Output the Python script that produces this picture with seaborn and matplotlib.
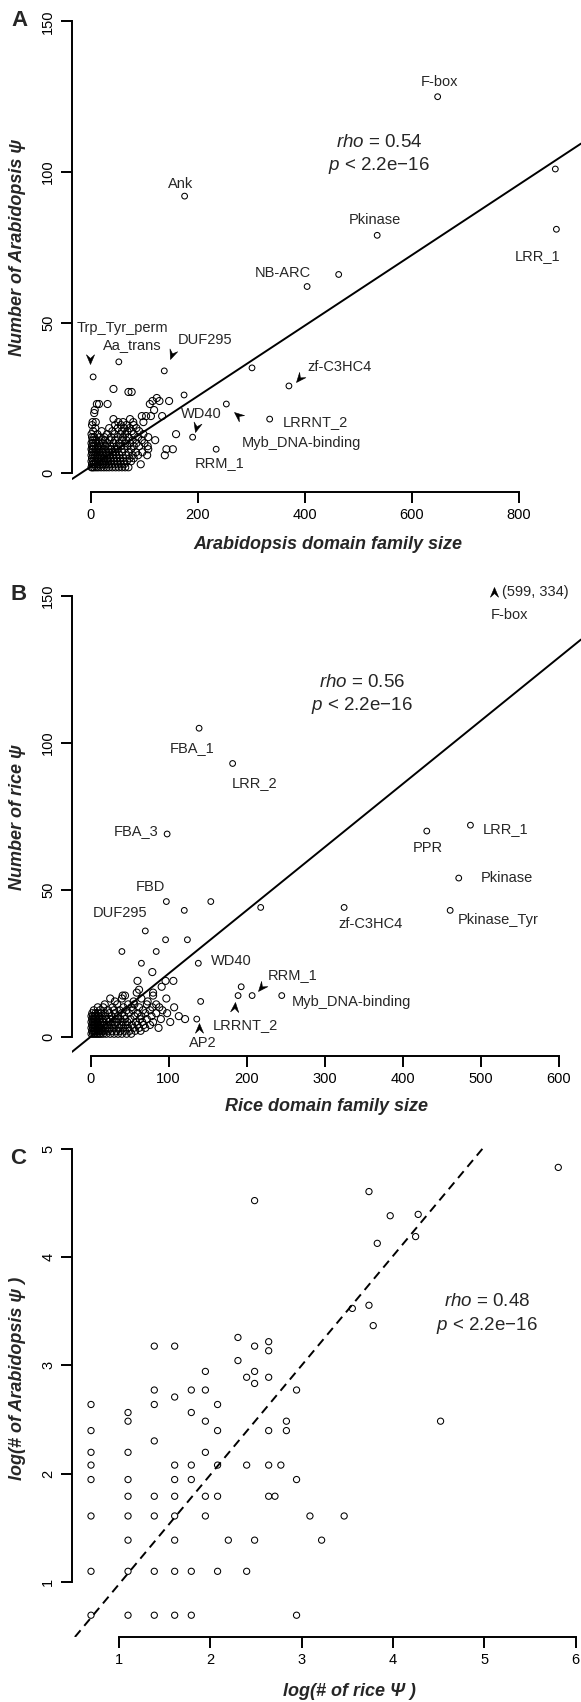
import numpy as np
import pandas as pd
import matplotlib
matplotlib.use("Agg")
import matplotlib.pyplot as plt
from matplotlib.markers import MarkerStyle
from matplotlib.path import Path
from matplotlib.transforms import Affine2D
import seaborn as sns

# ---------------- Panel A : Arabidopsis ----------------
# dense cluster, one row per psi count
a_rows_psi = [2, 3, 4, 5, 6, 7, 8, 9, 10, 11, 12, 13, 14, 15, 16, 17, 18, 19, 20, 21, 23, 24, 25, 27, 28]
a_rows_size = [
    [1, 3, 6, 10, 14, 19, 24, 29, 34, 40, 46, 52, 58, 64, 70],
    [2, 5, 8, 12, 17, 22, 27, 33, 38, 44, 50, 56, 62, 93],
    [1, 4, 9, 13, 18, 23, 28, 32, 37, 43, 49, 55, 61, 67, 75],
    [2, 6, 11, 15, 20, 25, 31, 36, 42, 48, 54, 60, 72, 80],
    [1, 4, 8, 12, 17, 26, 30, 35, 41, 47, 53, 65, 78, 88, 105, 138],
    [2, 6, 10, 16, 21, 28, 34, 40, 46, 58, 70, 84, 96],
    [1, 3, 9, 14, 19, 24, 33, 38, 44, 50, 62, 75, 107, 141, 153],
    [2, 5, 12, 18, 27, 36, 48, 56, 68, 80, 90, 106],
    [1, 4, 8, 15, 22, 30, 42, 52, 64, 73, 85, 100],
    [3, 10, 20, 26, 35, 45, 58, 66, 78, 95, 120],
    [2, 6, 16, 25, 38, 50, 60, 70, 88, 107],
    [1, 12, 30, 44, 55, 64, 80, 98, 159],
    [4, 20, 40, 58, 68, 76, 90],
    [8, 34, 50, 62, 72, 85],
    [2, 45, 56, 66, 80],
    [3, 9, 51, 60, 79, 98],
    [42, 73],
    [95, 103, 112, 133],
    [6],
    [7, 118],
    [11, 15, 31, 110],
    [115, 128, 146],
    [123],
    [70, 76],
    [42],
]
# isolated / named families
a_out_size = [648, 868, 870, 175, 535, 463, 404, 4, 52, 137, 301, 370, 253, 334, 190, 234, 174]
a_out_psi = [125, 101, 81, 92, 79, 66, 62, 32, 37, 34, 35, 29, 23, 18, 12, 8, 26]
a_fit = (2.26, 0.117)
a_labels = ["F-box", "Ank", "Pkinase", "LRR_1", "NB-ARC", "Trp_Tyr_perm", "Aa_trans",
            "DUF295", "zf-C3HC4", "LRRNT_2", "WD40", "Myb_DNA-binding", "RRM_1"]
a_label_x = [652, 167, 530, 834, 358, 58, 78, 213, 464, 419, 207, 393, 241]
a_label_y = [130, 96, 84, 72, 66.4, 48.3, 42.6, 44.2, 35.2, 17.1, 19.8, 10, 3.3]
a_arrow_x = [-2, 147, 384, 267, 195]
a_arrow_y = [36.3, 37.8, 30.2, 20.4, 13.8]
a_arrow_ang = [0, -20, -40, 230, -15]
a_stats = (538, 109.7, 102, "0.54")

# ---------------- Panel B : rice ----------------
b_rows_psi = [1, 2, 3, 4, 5, 6, 7, 8, 9, 10, 11, 12, 13, 14, 15, 16, 17, 19, 22]
b_rows_size = [
    [1, 3, 5, 7, 9, 11, 13, 16, 20, 25, 30, 35, 40, 46, 52],
    [2, 4, 6, 8, 10, 12, 15, 18, 22, 27, 33, 38, 44, 50, 57, 64],
    [1, 3, 5, 7, 9, 11, 14, 19, 24, 29, 36, 42, 48, 55, 62, 70, 87],
    [2, 4, 6, 8, 10, 13, 17, 21, 26, 31, 39, 45, 53, 60, 68, 76],
    [1, 3, 5, 7, 9, 12, 16, 23, 28, 34, 41, 47, 58, 66, 80, 102],
    [2, 4, 6, 8, 11, 15, 20, 25, 32, 38, 44, 51, 63, 72, 90, 121],
    [1, 3, 5, 7, 10, 14, 19, 27, 35, 43, 56, 65, 78, 113],
    [2, 6, 9, 13, 18, 24, 31, 40, 49, 60, 70, 84, 98],
    [4, 12, 22, 30, 37, 46, 54, 67, 76, 92],
    [9, 16, 28, 42, 52, 62, 79, 88, 107],
    [18, 34, 48, 56, 72, 84],
    [31, 55, 73],
    [25, 40, 65, 97],
    [41, 44, 80],
    [59, 80],
    [62],
    [91],
    [60, 96, 106],
    [79],
]
b_out_size = [139, 182, 98, 487, 431, 472, 461, 325, 97, 154, 120, 218, 70, 96, 124,
              40, 84, 65, 138, 193, 189, 207, 245, 141, 136]
b_out_psi = [105, 93, 69, 72, 70, 54, 43, 44, 46, 46, 43, 44, 36, 33, 33,
             29, 29, 25, 25, 17, 14, 14, 14, 12, 6]
b_fit = (0.0, 0.215)
b_labels = ["F-box", "FBA_1", "LRR_2", "FBA_3", "LRR_1", "PPR", "Pkinase", "Pkinase_Tyr",
            "zf-C3HC4", "FBD", "DUF295", "WD40", "RRM_1", "Myb_DNA-binding", "LRRNT_2", "AP2"]
b_label_x = [536.5, 129.8, 210.5, 58.5, 532, 432.3, 533.5, 522.4, 358.7, 76, 37, 180.8, 259, 335, 198.8, 143.6]
b_label_y = [143.5, 98.2, 86.2, 70.1, 70.6, 64.1, 53.9, 39.7, 38.3, 51, 42.2, 25.8, 21, 11.9, 4.0, -2.2]
b_arrow_x = [517, 214, 185, 139]
b_arrow_y = [153, 15.7, 11.9, 4.8]
b_arrow_ang = [180, -40, 175, 180]
b_offscale = (527.5, 151.5, "(599, 334)")
b_stats = (348, 120.5, 112.9, "0.56")

# ---------------- Panel C : log counts of shared families ----------------
c_rows_arab = [2, 3, 4, 5, 6, 7, 8, 9, 10, 11, 12, 13, 14, 15, 16, 17, 18, 19, 21, 23,
               24, 25, 26, 29, 34, 35, 62, 66, 80, 81, 92, 100, 125]
c_rows_rice = [
    [2, 3, 4, 5, 6, 19],
    [2, 3, 4, 5, 6, 8, 11],
    [3, 5, 9, 12, 25],
    [2, 3, 4, 5, 7, 22, 32],
    [3, 4, 5, 7, 8, 14, 15],
    [2, 3, 5, 6, 19],
    [2, 5, 6, 8, 11, 14, 16],
    [2, 3, 7],
    [4],
    [2, 8, 14, 17],
    [3, 7, 17, 92],
    [3, 6],
    [2, 4, 8],
    [5],
    [4, 6, 7, 19],
    [12],
    [11, 14],
    [7, 12],
    [10],
    [14],
    [4, 5, 12],
    [14],
    [10],
    [44],
    [35],
    [42],
    [46],
    [70],
    [53],
    [72],
    [12],
    [42],
    [334],
]
c_fit = (-0.03, 1.01)
c_stats = (5.03, 3.59, 3.37, "0.48")


def flatten(rows_y, rows_x):
    xs, ys = [], []
    for yv, xrow in zip(rows_y, rows_x):
        xs.extend(xrow)
        ys.extend([yv] * len(xrow))
    return pd.DataFrame({"x": xs, "y": ys})


sns.set_theme(style="ticks")
plt.rcParams["font.family"] = ["Liberation Sans", "DejaVu Sans"]
plt.rcParams["mathtext.fontset"] = "custom"
plt.rcParams["mathtext.it"] = "Liberation Sans:italic"
plt.rcParams["mathtext.rm"] = "Liberation Sans"

W, H = 581, 1702
fig = plt.figure(figsize=(W / 100, H / 100), dpi=100)


def px_axes(left, top, right, bottom):
    return fig.add_axes([left / W, 1 - bottom / H, (right - left) / W, (bottom - top) / H])


arrow_path = Path([(0, 0), (-0.42, 1.0), (0, 0.62), (0.42, 1.0), (0, 0)],
                  [Path.MOVETO, Path.LINETO, Path.LINETO, Path.LINETO, Path.CLOSEPOLY])


def draw_arrows(ax, xs, ys, angles):
    for x, y, a in zip(xs, ys, angles):
        m = MarkerStyle(arrow_path, transform=Affine2D().rotate_deg(a))
        ax.plot([x], [y], linestyle="none", marker=m, ms=14, color="black",
                mec="black", mew=0.4, zorder=4)


def draw_points(ax, df, size):
    sns.scatterplot(data=df, x="x", y="y", ax=ax, s=size, facecolor="none",
                    edgecolor="black", linewidth=0.75, legend=False, zorder=3)


def draw_stats(ax, stats, fs=13.5):
    x, y1, y2, rho = stats
    ax.text(x, y1, r"$\mathit{rho}$ = " + rho, ha="center", va="center", fontsize=fs)
    ax.text(x, y2, r"$\mathit{p}$ < 2.2e" + "\u221216", ha="center", va="center", fontsize=fs)


def finish(ax, xlim, ylim, xticks, yticks, xlabel, ylabel, xlab_pos, ylab_pos):
    ax.set_xlim(xlim)
    ax.set_ylim(ylim)
    sns.despine(ax=ax)
    ax.spines["bottom"].set_bounds(xticks[0], xticks[-1])
    ax.spines["left"].set_bounds(yticks[0], yticks[-1])
    for s in ("bottom", "left"):
        ax.spines[s].set_linewidth(1.4)
        ax.spines[s].set_color("black")
    ax.set_xticks(xticks)
    ax.set_yticks(yticks)
    ax.tick_params(axis="both", direction="out", length=8, width=1.4, labelsize=10.5,
                   color="black", labelcolor="black")
    ax.tick_params(axis="x", pad=3.5)
    ax.tick_params(axis="y", pad=4, labelrotation=90)
    for t in ax.get_yticklabels():
        t.set_va("center")
    ax.set_xlabel(xlabel, fontsize=13, fontweight="bold", fontstyle="italic", va="center")
    ax.set_ylabel(ylabel, fontsize=13, fontweight="bold", fontstyle="italic", va="center")
    ax.xaxis.set_label_coords(*xlab_pos)
    ax.yaxis.set_label_coords(*ylab_pos)
    ax.set_facecolor("none")


# ---- A ----
axA = px_axes(72, 3.3, 581, 492)
axA.axline((0, a_fit[0]), slope=a_fit[1], color="black", lw=1.4, zorder=2)
draw_points(axA, flatten(a_rows_psi, a_rows_size), 26)
draw_points(axA, pd.DataFrame({"x": a_out_size, "y": a_out_psi}), 17)
for s, x, y in zip(a_labels, a_label_x, a_label_y):
    axA.text(x, y, s, ha="center", va="center", fontsize=10.5)
draw_arrows(axA, a_arrow_x, a_arrow_y, a_arrow_ang)
draw_stats(axA, a_stats)
finish(axA, (-35.5, 916), (-6.2, 156), [0, 200, 400, 600, 800], [0, 50, 100, 150],
       "Arabidopsis domain family size", "Number of Arabidopsis \u03c8",
       (0.503, -0.108), (-0.108, 0.5))

# ---- B ----
axB = px_axes(72, 578.4, 581, 1056)
axB.axline((0, b_fit[0]), slope=b_fit[1], color="black", lw=1.4, zorder=2)
draw_points(axB, flatten(b_rows_psi, b_rows_size), 26)
draw_points(axB, pd.DataFrame({"x": b_out_size, "y": b_out_psi}), 17)
for s, x, y in zip(b_labels, b_label_x, b_label_y):
    axB.text(x, y, s, ha="center", va="center", fontsize=10.5)
axB.text(b_offscale[0], b_offscale[1], b_offscale[2], ha="left", va="center", fontsize=10.5)
draw_arrows(axB, b_arrow_x, b_arrow_y, b_arrow_ang)
draw_stats(axB, b_stats)
finish(axB, (-24.0, 628.8), (-6.57, 156), [0, 100, 200, 300, 400, 500, 600], [0, 50, 100, 150],
       "Rice domain family size", "Number of rice \u03c8",
       (0.50, -0.1047), (-0.108, 0.5))

# ---- C ----
axC = px_axes(72, 1146, 581, 1637)
dfC = flatten(c_rows_arab, c_rows_rice)
dfC = pd.DataFrame({"x": np.log(dfC["x"]), "y": np.log(dfC["y"])})
axC.axline((0, c_fit[0]), slope=c_fit[1], color="black", lw=1.4, ls=(0, (4.5, 3)), zorder=2)
draw_points(axC, dfC, 20)
draw_stats(axC, c_stats)
finish(axC, (0.485, 6.06), (0.492, 5.026), [1, 2, 3, 4, 5, 6], [1, 2, 3, 4, 5],
       "log(# of rice \u03a8 )", "log(# of Arabidopsis \u03c8 )",
       (0.546, -0.111), (-0.108, 0.527))

for letter, (px, py) in zip("ABC", [(19, 21), (18.5, 595), (18.3, 1159)]):
    fig.text(px / W, 1 - py / H, letter, fontsize=16, fontweight="bold", ha="center", va="center")

fig.savefig("out.png", dpi=100)
